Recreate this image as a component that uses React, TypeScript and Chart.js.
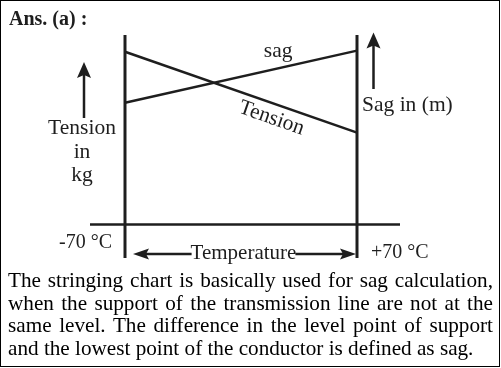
import React, { useEffect, useRef } from "react";
import { Chart, registerables } from "chart.js";

Chart.register(...registerables);

// ---- data ----
const temperatures = [-70, 70];
const tensionValues = [77.5, 41.2];
const sagValues = [54.6, 78];
const tempLabels = ["-70 °C", "+70 °C"];
const titleText = "Ans. (a) :";
const leftAxisLabel = ["Tension", "in", "kg"];
const rightAxisLabel = "Sag in (m)";
const xAxisLabel = "Temperature";
const seriesNames = ["Tension", "sag"];
const paragraphLines = [
  "The stringing chart is basically used for sag calculation,",
  "when the support of the transmission line are not at the",
  "same level. The difference in the level point of support",
  "and the lowest point of the conductor is defined as sag.",
];

const INK = "#1e1e1e";
const SERIF = '"Liberation Serif", "Times New Roman", serif';

const W = 501;
const CH = 268;

function drawArrowHead(ctx: CanvasRenderingContext2D, tx: number, ty: number, dx: number, dy: number, len: number, half: number) {
  const bx = tx - dx * len;
  const by = ty - dy * len;
  const px = -dy, py = dx;
  ctx.beginPath();
  ctx.moveTo(tx, ty);
  ctx.lineTo(bx + px * half, by + py * half);
  ctx.lineTo(bx + dx * 3, by + dy * 3);
  ctx.lineTo(bx - px * half, by - py * half);
  ctx.closePath();
  ctx.fill();
}

function seg(ctx: CanvasRenderingContext2D, x1: number, y1: number, x2: number, y2: number) {
  ctx.beginPath();
  ctx.moveTo(x1, y1);
  ctx.lineTo(x2, y2);
  ctx.stroke();
}

const diagramPlugin = {
  id: "diagram",
  afterDraw(chart: any) {
    const ctx: CanvasRenderingContext2D = chart.ctx;
    const a = chart.chartArea;
    const xs = chart.scales.x;
    const ys = chart.scales.y;
    const xl = xs.getPixelForValue(temperatures[0]);
    const xr = xs.getPixelForValue(temperatures[1]);
    const y0 = ys.getPixelForValue(0);
    ctx.save();
    ctx.strokeStyle = INK;
    ctx.fillStyle = INK;
    ctx.lineCap = "butt";

    // vertical axes
    ctx.lineWidth = 3;
    seg(ctx, xl, a.top, xl, a.bottom);
    seg(ctx, xr, a.top, xr, a.bottom);
    // horizontal axis
    ctx.lineWidth = 2.5;
    seg(ctx, xl - 35, y0, xr + 43, y0);

    // title
    ctx.font = "bold 20px " + SERIF;
    ctx.textAlign = "left";
    ctx.textBaseline = "alphabetic";
    ctx.fillText(titleText, 9, 25);

    // temperature labels
    ctx.font = "20px " + SERIF;
    ctx.textAlign = "left";
    ctx.fillText(tempLabels[0], xl - 66, 248);
    ctx.fillText(tempLabels[1], xr + 14, 258);

    // Temperature with arrows
    ctx.font = "21px " + SERIF;
    const yA = 254;
    const cx = (xl + xr) / 2 + 2.5;
    const tw = ctx.measureText(xAxisLabel).width;
    ctx.textAlign = "center";
    ctx.fillText(xAxisLabel, cx, 259);
    ctx.lineWidth = 2.5;
    const tipL = xl + 8;
    const tipR = xr - 1;
    seg(ctx, cx - tw / 2 + 1, yA, tipL + 10, yA);
    drawArrowHead(ctx, tipL, yA, -1, 0, 16, 5.5);
    seg(ctx, cx + tw / 2 - 1, yA, tipR - 10, yA);
    drawArrowHead(ctx, tipR, yA, 1, 0, 16, 5.5);

    // left up arrow + label
    ctx.font = "21.5px " + SERIF;
    const lx = 84;
    seg(ctx, lx, 118, lx, 72);
    drawArrowHead(ctx, lx, 62, 0, -1, 16, 7);
    ctx.textAlign = "center";
    ctx.fillText(leftAxisLabel[0], 82, 134);
    ctx.fillText(leftAxisLabel[1], 82, 158);
    ctx.fillText(leftAxisLabel[2], 82, 181);

    // right up arrow + label
    const rx = 373.5;
    seg(ctx, rx, 89, rx, 43);
    drawArrowHead(ctx, rx, 32.5, 0, -1, 16, 7);
    ctx.textAlign = "left";
    ctx.fillText(rightAxisLabel, 362, 111);

    // series labels
    const tx1 = xl, ty1 = ys.getPixelForValue(tensionValues[0]);
    const tx2 = xr, ty2 = ys.getPixelForValue(tensionValues[1]);
    const ang = Math.atan2(ty2 - ty1, tx2 - tx1);
    const t = 0.652;
    const mx = tx1 + (tx2 - tx1) * t;
    const my = ty1 + (ty2 - ty1) * t;
    ctx.save();
    ctx.translate(mx, my);
    ctx.rotate(ang);
    ctx.textAlign = "center";
    ctx.textBaseline = "middle";
    ctx.fillText(seriesNames[0], 0, 14.5);
    ctx.restore();

    const sx1 = xl, sy1 = ys.getPixelForValue(sagValues[0]);
    const sx2 = xr, sy2 = ys.getPixelForValue(sagValues[1]);
    const ts = 0.66;
    const smx = sx1 + (sx2 - sx1) * ts;
    const smy = sy1 + (sy2 - sy1) * ts;
    ctx.textAlign = "center";
    ctx.textBaseline = "alphabetic";
    ctx.fillText(seriesNames[1], smx, smy - 11);

    ctx.restore();
  },
};

export default function App() {
  const ref = useRef<HTMLCanvasElement>(null);
  useEffect(() => {
    const canvas = ref.current;
    if (!canvas) return;
    const chart = new Chart(canvas, {
      type: "line",
      data: {
        datasets: [
          {
            label: seriesNames[0],
            data: temperatures.map((t, i) => ({ x: t, y: tensionValues[i] })),
            borderColor: INK,
            borderWidth: 2.5,
            pointRadius: 0,
            fill: false,
          },
          {
            label: seriesNames[1],
            data: temperatures.map((t, i) => ({ x: t, y: sagValues[i] })),
            borderColor: INK,
            borderWidth: 2.5,
            pointRadius: 0,
            fill: false,
          },
        ],
      },
      options: {
        responsive: false,
        animation: false,
        events: [],
        clip: false,
        layout: { padding: { left: 125, right: W - 357, top: 35, bottom: CH - 258 } },
        plugins: { legend: { display: false }, tooltip: { enabled: false }, title: { display: false } },
        scales: {
          x: { type: "linear", min: -70, max: 70, display: false },
          y: { type: "linear", min: -15, max: 85, display: false },
        },
      },
      plugins: [diagramPlugin],
    } as any);
    return () => chart.destroy();
  }, []);

  return (
    <div style={{ position: "absolute", left: 0, top: 0, width: W, height: 368, background: "#fff" }}>
      <canvas ref={ref} width={W} height={CH} style={{ position: "absolute", left: 0, top: 0, width: W, height: CH }} />
      <div
        style={{
          position: "absolute",
          left: 0,
          top: 0,
          width: 500,
          height: 367,
          boxSizing: "border-box",
          border: "1px solid #000",
          pointerEvents: "none",
        }}
      />
      <div
        style={{
          position: "absolute",
          left: 8,
          top: 269,
          width: 485,
          fontFamily: SERIF,
          fontSize: 21.2,
          lineHeight: "22.7px",
          color: "#000",
        }}
      >
        {paragraphLines.map((l, i) => (
          <div
            key={i}
            style={{
              textAlign: i < paragraphLines.length - 1 ? "justify" : "left",
              textAlignLast: i < paragraphLines.length - 1 ? "justify" : "left",
              whiteSpace: "nowrap",
            }}
          >
            {l}
          </div>
        ))}
      </div>
    </div>
  );
}
